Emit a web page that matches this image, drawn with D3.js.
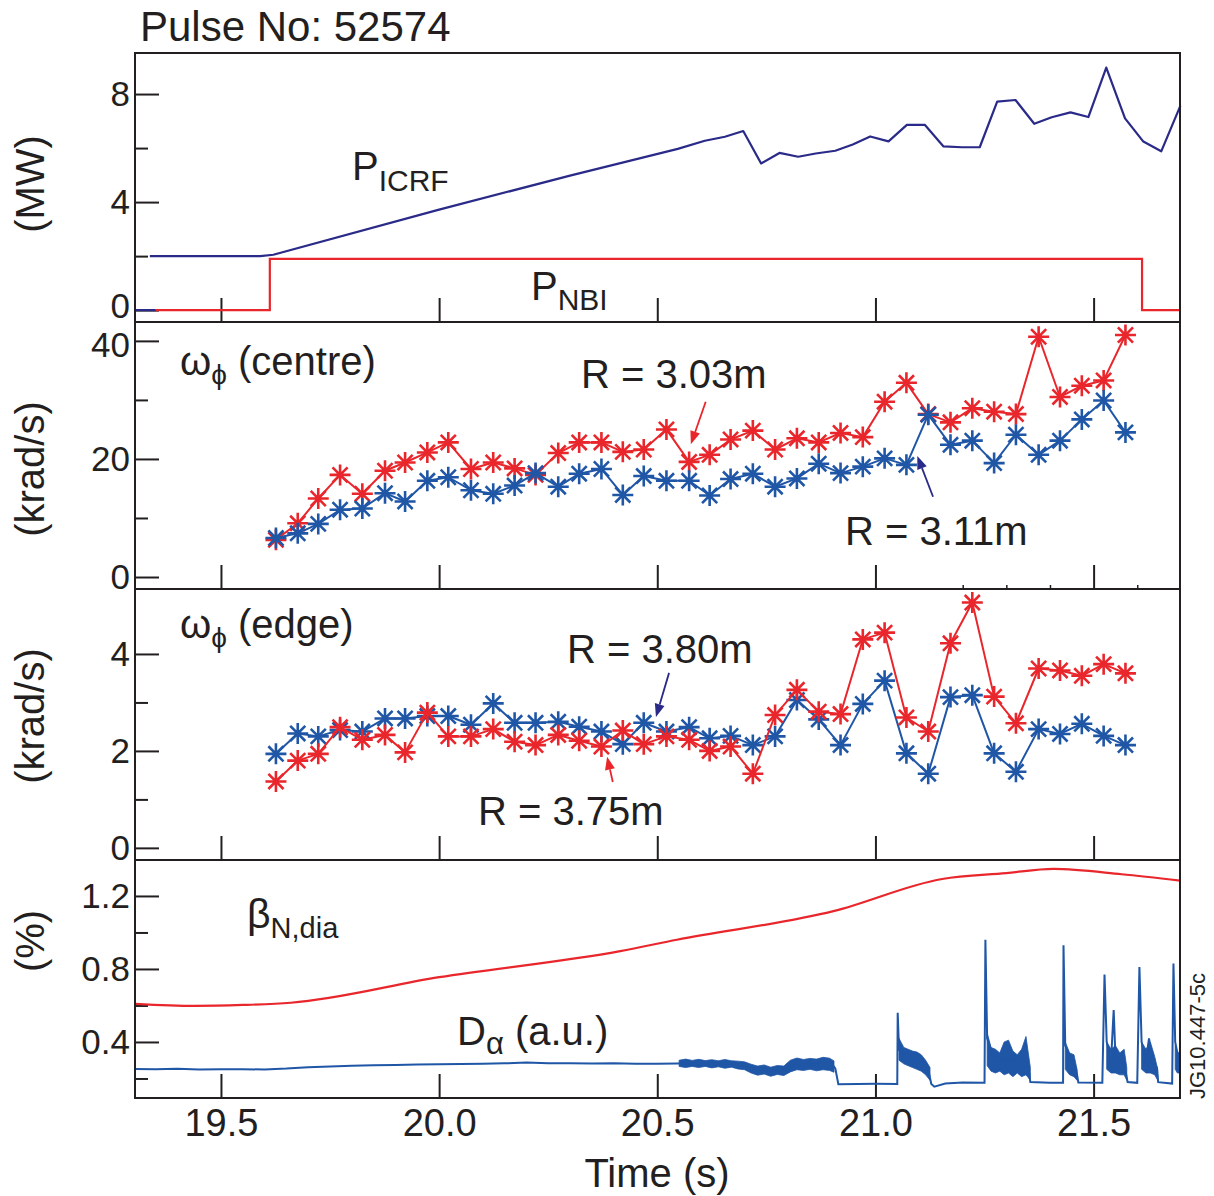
<!DOCTYPE html>
<html>
<head>
<meta charset="utf-8">
<script src="https://cdn.jsdelivr.net/npm/d3@7"></script>
<style>
  body { margin: 0; background: #fff; }
  svg { display: block; }
  text { font-family: "Liberation Sans", Arial, Helvetica, sans-serif; fill: #231f20; }
</style>
</head>
<body>
<div id="chart"></div>
<script>
// ---- data ----
const xTicks = [19.5, 20.0, 20.5, 21.0, 21.5];

// panel 1: heating power (MW)
const icrfZeroT = [19.303, 19.35];
const icrfZeroV = [0, 0];
const icrfT = [19.337, 19.59, 19.62, 20.0, 20.3, 20.547, 20.609, 20.655, 20.697, 20.738, 20.780, 20.823,
  20.863, 20.908, 20.948, 20.988, 21.030, 21.072, 21.113, 21.156, 21.198, 21.239, 21.279, 21.321,
  21.364, 21.404, 21.447, 21.488, 21.529, 21.572, 21.614, 21.655, 21.699];
const icrfV = [2.0, 2.0, 2.05, 3.72, 4.98, 5.97, 6.27, 6.42, 6.63, 5.43, 5.82, 5.68,
  5.80, 5.90, 6.13, 6.43, 6.25, 6.86, 6.86, 6.06, 6.03, 6.03, 7.72, 7.78,
  6.90, 7.14, 7.32, 7.15, 8.98, 7.10, 6.24, 5.88, 7.57];
const nbiT = [19.35, 19.612, 21.611, 21.698];
const nbiV = [0, 1.9, 0, 0];

// panels 2 and 3: toroidal rotation (krad/s), CXRS channel times
const omegaT = [19.626, 19.676, 19.723, 19.773, 19.824, 19.876, 19.922, 19.973, 20.021, 20.073,
  20.124, 20.173, 20.221, 20.273, 20.321, 20.372, 20.421, 20.469, 20.521, 20.573,
  20.620, 20.668, 20.719, 20.770, 20.820, 20.870, 20.920, 20.971, 21.021, 21.071,
  21.121, 21.172, 21.222, 21.272, 21.322, 21.374, 21.423, 21.473, 21.523, 21.573];
const centreRed = [6.3, 9.1, 13.3, 17.3, 14.1, 18.0, 19.4, 21.1, 22.8, 18.3,
  19.4, 18.4, 17.3, 21.0, 22.8, 22.8, 21.2, 21.6, 25.0, 19.5,
  20.7, 23.3, 24.8, 21.6, 23.5, 22.8, 24.4, 23.7, 29.7, 32.9,
  27.6, 26.2, 28.6, 28.0, 27.6, 40.7, 30.5, 32.4, 33.3, 41.0];
const centreBlue = [6.6, 7.4, 9.0, 11.4, 11.6, 14.2, 12.8, 16.3, 16.9, 14.7,
  14.1, 15.5, 17.6, 15.3, 17.5, 18.3, 13.9, 17.1, 16.3, 16.3,
  13.8, 16.6, 17.5, 15.3, 16.7, 19.2, 17.6, 18.7, 20.1, 19.0,
  27.5, 22.4, 23.1, 19.3, 24.1, 20.7, 23.1, 26.7, 29.9, 24.5];
const edgeRed = [1.37, 1.80, 1.94, 2.49, 2.23, 2.33, 1.97, 2.79, 2.30, 2.30,
  2.45, 2.19, 2.12, 2.33, 2.21, 2.09, 2.42, 2.14, 2.30, 2.23,
  2.00, 2.09, 1.53, 2.74, 3.26, 2.81, 2.76, 4.30, 4.44, 2.69,
  2.40, 4.22, 5.06, 3.12, 2.57, 3.70, 3.66, 3.55, 3.79, 3.60];
const edgeBlue = [1.94, 2.36, 2.30, 2.43, 2.40, 2.67, 2.67, 2.72, 2.72, 2.54,
  2.98, 2.58, 2.58, 2.60, 2.50, 2.40, 2.14, 2.58, 2.40, 2.49,
  2.26, 2.31, 2.12, 2.30, 3.05, 2.65, 2.12, 2.97, 3.45, 1.95,
  1.53, 3.11, 3.15, 1.95, 1.57, 2.45, 2.35, 2.56, 2.31, 2.12];

// panel 4: beta_N (%) and D-alpha (a.u.)
const betaT = [19.303, 19.44, 19.55, 19.66, 20.0, 20.415, 20.545, 20.906, 21.153, 21.30, 21.408, 21.564, 21.698];
const betaV = [0.609, 0.598, 0.603, 0.615, 0.755, 0.898, 0.960, 1.118, 1.293, 1.325, 1.348, 1.319, 1.284];

const daT = [19.303, 19.35, 19.40, 19.45, 19.50, 19.55, 19.60, 19.65, 19.70, 19.75, 19.80, 19.85, 19.90,
  19.95, 20.00, 20.05, 20.10, 20.15, 20.20, 20.25, 20.30, 20.35, 20.40, 20.45, 20.50, 20.545,
  20.60, 20.65, 20.70, 20.72, 20.76, 20.80, 20.81, 20.85, 20.90, 20.908, 20.915,
  20.96, 21.00, 21.05,
  21.051, 21.054, 21.07, 21.09, 21.11, 21.12, 21.128, 21.135, 21.16, 21.20, 21.25,
  21.252, 21.256, 21.27, 21.30, 21.33, 21.35, 21.355, 21.40, 21.43,
  21.431, 21.435, 21.45, 21.46, 21.465, 21.52,
  21.525, 21.53, 21.54, 21.546, 21.55, 21.57, 21.578, 21.60,
  21.605, 21.61, 21.62, 21.627, 21.635, 21.645, 21.648, 21.68,
  21.683, 21.687, 21.695, 21.698];
const daV = [0.252, 0.250, 0.253, 0.249, 0.250, 0.251, 0.249, 0.254, 0.262, 0.266, 0.270, 0.272, 0.274,
  0.276, 0.278, 0.279, 0.281, 0.283, 0.287, 0.284, 0.283, 0.282, 0.283, 0.281, 0.281, 0.282,
  0.285, 0.284, 0.276, 0.255, 0.245, 0.248, 0.270, 0.278, 0.280, 0.255, 0.168,
  0.170, 0.171, 0.170,
  0.560, 0.360, 0.330, 0.310, 0.290, 0.260, 0.170, 0.155, 0.172, 0.178, 0.176,
  0.960, 0.420, 0.320, 0.300, 0.300, 0.270, 0.180, 0.176, 0.176,
  0.930, 0.380, 0.300, 0.250, 0.178, 0.176,
  0.770, 0.400, 0.300, 0.575, 0.320, 0.280, 0.180, 0.176,
  0.810, 0.400, 0.300, 0.420, 0.290, 0.260, 0.180, 0.172,
  0.830, 0.400, 0.300, 0.280];

// envelope of the noisy (ELM / fluctuating) stretches of D-alpha, null = gap
const bandT = [20.55, 20.565, 20.58, 20.595, 20.61, 20.625, 20.64, 20.655, 20.67, 20.685, 20.70, 20.715,
  20.73, 20.745, 20.76, 20.775, 20.79, 20.805, 20.82, 20.835, 20.85, 20.865, 20.88, 20.895, 20.905, null,
  21.054, 21.065, 21.075, 21.085, 21.095, 21.105, 21.115, 21.125, null,
  21.256, 21.265, 21.275, 21.285, 21.295, 21.305, 21.315, 21.325, 21.335, 21.345, 21.355, null,
  21.435, 21.445, 21.455, 21.462, null,
  21.53, 21.54, 21.55, 21.56, 21.57, 21.576, null,
  21.61, 21.62, 21.63, 21.64, 21.647, null,
  21.687, 21.692, 21.698];
const bandLo = [0.266, 0.260, 0.266, 0.260, 0.266, 0.258, 0.264, 0.256, 0.262, 0.252, 0.248, 0.230,
  0.218, 0.224, 0.212, 0.222, 0.216, 0.236, 0.248, 0.244, 0.250, 0.242, 0.248, 0.244, 0.234, null,
  0.30, 0.28, 0.27, 0.26, 0.25, 0.24, 0.22, 0.19, null,
  0.27, 0.24, 0.23, 0.24, 0.22, 0.23, 0.21, 0.23, 0.21, 0.22, 0.19, null,
  0.25, 0.22, 0.21, 0.19, null,
  0.25, 0.23, 0.23, 0.22, 0.22, 0.19, null,
  0.25, 0.23, 0.23, 0.22, 0.19, null,
  0.25, 0.23, 0.23];
const bandHi = [0.300, 0.306, 0.299, 0.305, 0.298, 0.303, 0.297, 0.304, 0.297, 0.295, 0.291, 0.278,
  0.268, 0.274, 0.262, 0.271, 0.268, 0.300, 0.312, 0.304, 0.310, 0.306, 0.316, 0.311, 0.296, null,
  0.42, 0.37, 0.36, 0.35, 0.345, 0.33, 0.30, 0.26, null,
  0.45, 0.37, 0.36, 0.34, 0.40, 0.41, 0.35, 0.33, 0.36, 0.43, 0.26, null,
  0.40, 0.34, 0.33, 0.25, null,
  0.40, 0.36, 0.38, 0.34, 0.36, 0.26, null,
  0.40, 0.36, 0.40, 0.32, 0.25, null,
  0.38, 0.35, 0.33];

// ---- drawing ----
const W = 1214, H = 1196;
const RED = '#e8262b', BLUE = '#1f56a6', NAVY = '#2a2a88', INK = '#231f20';

const svg = d3.select('#chart').append('svg').attr('width', W).attr('height', H);
const x = d3.scaleLinear().domain([19.303, 21.698]).range([135, 1180]);

const panels = [
  { top: 53,  bottom: 322,  domain: [-0.44, 9.52],  major: [0, 4, 8],       minor: [2, 6],          fmt: d3.format('d'),   label: '(MW)',     labelY: 184 },
  { top: 322, bottom: 589,  domain: [-2.03, 43.2],  major: [0, 20, 40],     minor: [10, 30],        fmt: d3.format('d'),   label: '(krad/s)', labelY: 469 },
  { top: 589, bottom: 860,  domain: [-0.25, 5.34],  major: [0, 2, 4],       minor: [1, 3],          fmt: d3.format('d'),   label: '(krad/s)', labelY: 716 },
  { top: 860, bottom: 1098, domain: [0.093, 1.397], major: [0.4, 0.8, 1.2], minor: [0.2, 0.6, 1.0], fmt: d3.format('.1f'), label: '(%)',      labelY: 941 }
];
panels.forEach(p => { p.y = d3.scaleLinear().domain(p.domain).range([p.bottom, p.top]); });

// axes and frames
panels.forEach((p, i) => {
  const gMaj = svg.append('g').attr('transform', `translate(135,0)`)
    .call(d3.axisLeft(p.y).tickValues(p.major).tickSize(-24).tickPadding(5).tickFormat(p.fmt));
  gMaj.select('.domain').remove();
  gMaj.attr('font-size', 35).attr('font-family', null);
  gMaj.selectAll('line').attr('stroke', INK).attr('stroke-width', 2);
  gMaj.selectAll('text').attr('fill', INK);

  const gMin = svg.append('g').attr('transform', `translate(135,0)`)
    .call(d3.axisLeft(p.y).tickValues(p.minor).tickSize(-13).tickFormat(''));
  gMin.select('.domain').remove();
  gMin.selectAll('line').attr('stroke', INK).attr('stroke-width', 2);

  const last = i === panels.length - 1;
  const gx = svg.append('g').attr('transform', `translate(0,${p.bottom})`)
    .call(d3.axisBottom(x).tickValues(xTicks).tickSize(-24).tickPadding(11)
      .tickFormat(last ? d3.format('.1f') : ''));
  gx.select('.domain').remove();
  gx.attr('font-size', 38).attr('font-family', null);
  gx.selectAll('line').attr('stroke', INK).attr('stroke-width', 2);
  gx.selectAll('text').attr('fill', INK);

  svg.append('text')
    .attr('transform', `translate(44,${p.labelY}) rotate(-90)`)
    .attr('text-anchor', 'middle').attr('font-size', 40).text(p.label);
  p.gMaj = gMaj;
});

// panel-1 "0" and panel-2 "40" sit nearly on top of each other: nudge them apart
panels[0].gMaj.selectAll('.tick text').filter(d => d === 0).attr('dy', '0.2em');
panels[1].gMaj.selectAll('.tick text').filter(d => d === 40).attr('dy', '0.44em');

// small stray ticks under the centre panel
const gStray = svg.append('g').attr('transform', `translate(0,${panels[1].bottom})`)
  .call(d3.axisBottom(x).tickValues([21.2, 21.3, 21.4, 21.6]).tickSize(-4).tickFormat(''));
gStray.select('.domain').remove();
gStray.selectAll('line').attr('stroke', INK).attr('stroke-width', 1.5);

const lineGen = (ys, curve) => d3.line()
  .defined(d => d[1] != null)
  .x(d => x(d[0])).y(d => ys(d[1])).curve(curve || d3.curveLinear);
const zip = (a, b) => a.map((v, i) => [v, b[i]]);

// panel 1
const p1 = panels[0];
svg.append('path').datum(zip(nbiT, nbiV)).attr('d', lineGen(p1.y, d3.curveStepAfter))
  .attr('fill', 'none').attr('stroke', RED).attr('stroke-width', 2.2);
svg.append('path').datum(zip(icrfZeroT, icrfZeroV)).attr('d', lineGen(p1.y))
  .attr('fill', 'none').attr('stroke', NAVY).attr('stroke-width', 2.2);
svg.append('path').datum(zip(icrfT, icrfV)).attr('d', lineGen(p1.y))
  .attr('fill', 'none').attr('stroke', NAVY).attr('stroke-width', 2.2).attr('stroke-linejoin', 'round');

// asterisk marker
const r = 10.5, dg = r * 0.72;
const star = `M${-r},0H${r}M0,${-r}V${r}M${-dg},${-dg}L${dg},${dg}M${-dg},${dg}L${dg},${-dg}`;
function series(p, vals, color) {
  const pts = zip(omegaT, vals);
  svg.append('path').datum(pts).attr('d', lineGen(p.y))
    .attr('fill', 'none').attr('stroke', color).attr('stroke-width', 2).attr('stroke-linejoin', 'round');
  svg.append('g').selectAll('path').data(pts).join('path')
    .attr('transform', d => `translate(${x(d[0])},${p.y(d[1])})`)
    .attr('d', star).attr('fill', 'none').attr('stroke', color).attr('stroke-width', 2.6);
}
series(panels[1], centreRed, RED);
series(panels[1], centreBlue, BLUE);
series(panels[2], edgeBlue, BLUE);
series(panels[2], edgeRed, RED);

// panel 4
const p4 = panels[3];
svg.append('path').datum(zip(betaT, betaV)).attr('d', lineGen(p4.y, d3.curveMonotoneX))
  .attr('fill', 'none').attr('stroke', RED).attr('stroke-width', 2.2);
const band = bandT.map((t, i) => [t, bandLo[i], bandHi[i]]);
svg.append('path').datum(band)
  .attr('d', d3.area().defined(d => d[0] != null)
    .x(d => x(d[0])).y0(d => p4.y(d[1])).y1(d => p4.y(d[2])))
  .attr('fill', BLUE).attr('stroke', BLUE).attr('stroke-width', 0.8);
svg.append('path').datum(zip(daT, daV)).attr('d', lineGen(p4.y))
  .attr('fill', 'none').attr('stroke', BLUE).attr('stroke-width', 2);

// frames
panels.forEach(p => {
  svg.append('rect').attr('x', 135).attr('y', p.top).attr('width', 1180 - 135).attr('height', p.bottom - p.top)
    .attr('fill', 'none').attr('stroke', INK).attr('stroke-width', 2);
});

// annotation arrows (data coordinates)
function arrow(p, t0, v0, t1, v1, color) {
  const xa = x(t0), ya = p.y(v0), xb = x(t1), yb = p.y(v1);
  const ang = Math.atan2(yb - ya, xb - xa), L = 13, Wd = 5;
  const bx = xb - L * Math.cos(ang), by = yb - L * Math.sin(ang);
  svg.append('line').attr('x1', xa).attr('y1', ya).attr('x2', bx).attr('y2', by)
    .attr('stroke', color).attr('stroke-width', 1.8);
  svg.append('path').attr('fill', color)
    .attr('d', `M${xb},${yb}L${bx + Wd * Math.sin(ang)},${by - Wd * Math.cos(ang)}L${bx - Wd * Math.sin(ang)},${by + Wd * Math.cos(ang)}Z`);
}
arrow(panels[1], 20.611, 29.7, 20.577, 22.5, RED);
arrow(panels[1], 21.132, 13.6, 21.096, 20.5, NAVY);
arrow(panels[2], 20.527, 3.61, 20.497, 2.70, NAVY);
arrow(panels[2], 20.398, 1.36, 20.385, 1.88, RED);

// text labels
function label(xp, yp, parts) {
  const t = svg.append('text').attr('x', xp).attr('y', yp);
  parts.forEach(([s, size, dy]) => t.append('tspan').attr('font-size', size).attr('dy', dy || 0).text(s));
  return t;
}
svg.append('text').attr('x', 140).attr('y', 41).attr('font-size', 42).text('Pulse No: 52574');
label(352, 180, [['P', 40], ['ICRF', 30, 11]]);
label(531, 300, [['P', 40], ['NBI', 30, 10]]);
label(180, 375, [['ω', 40], ['ϕ', 28, 9], [' (centre)', 40, -9]]);
label(180, 638, [['ω', 40], ['ϕ', 28, 9], [' (edge)', 40, -9]]);
label(581, 388, [['R = 3.03m', 40]]);
label(845, 545, [['R = 3.11m', 40]]);
label(567, 663, [['R = 3.80m', 40]]);
label(478, 825, [['R = 3.75m', 40]]);
label(247, 928, [['β', 41], ['N,dia', 29, 10]]);
label(457, 1045, [['D', 40], ['α', 31, 9], [' (a.u.)', 40, -9]]);
svg.append('text').attr('x', 657).attr('y', 1187).attr('text-anchor', 'middle').attr('font-size', 40).text('Time (s)');
svg.append('text').attr('transform', 'translate(1205,1099) rotate(-90)').attr('font-size', 22).text('JG10.447-5c');
</script>
</body>
</html>
